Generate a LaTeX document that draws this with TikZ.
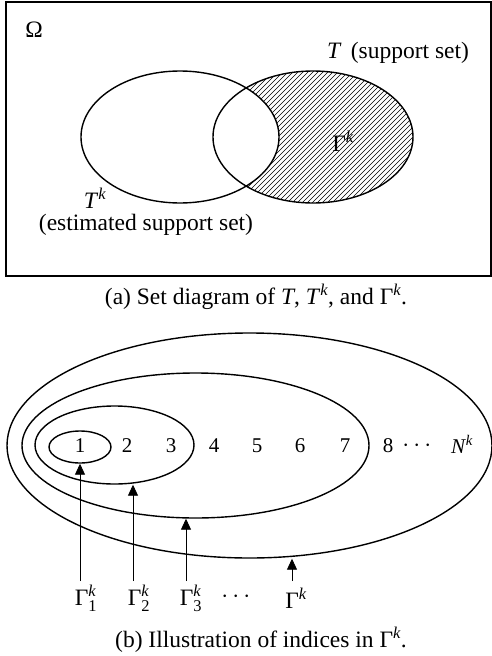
\documentclass[tikz,border=0pt]{standalone}
\usepackage{fontspec}
\usepackage{amsmath}
\setmainfont{Liberation Serif}
\usetikzlibrary{shapes.geometric,arrows.meta}
\begin{document}
\begin{tikzpicture}[x=1pt,y=-1pt,
  setell/.style={ellipse, draw, line width=1.4pt, inner sep=0pt},
  lab/.style={font=\fontsize{23.5}{28}\selectfont, inner sep=0pt},
  num/.style={font=\fontsize{21}{25}\selectfont, inner sep=0pt},
  captext/.style={font=\fontsize{23.5}{28}\selectfont, inner sep=0pt},
  arr/.style={line width=0.9pt, -{Triangle[length=11pt,width=10pt]}},
  hatch/.style={line width=0.6pt}]
\useasboundingbox (0,0) rectangle (492,656);

% ---------- panel (a)
\node[draw, line width=1.8pt, minimum width=485pt, minimum height=274pt, inner sep=0pt] (omega) at (248.5,139) {};
\node[lab] (om) at (34,30) {Ω};
\begin{scope}
  \clip (313,137) ellipse [x radius=100pt, y radius=66pt];
  \foreach \c in {280,285,...,620}
    \draw[hatch] (\c-50,50) -- (\c-225,225);
\end{scope}
\node[setell, fill=white, minimum width=198pt, minimum height=132pt] (Tk) at (180,137) {};
\node[setell, minimum width=200pt, minimum height=132pt] (T) at (313,137) {};
\node[lab] (Tlab) at (398,53) {\textit{T}\hspace{0.4em}(support set)};
\node[lab] (Glab) at (343,141) {$\text{Γ}^{\textit{k}}$};
\node[lab] (Tklab) at (95,198) {$\text{\textit{T}}^{\textit{k}}$};
\node[lab] (est) at (146,225) {(estimated support set)};
\node[captext] (capa) at (256,297) {(a) Set diagram of \textit{T}, $\text{\textit{T}}^{\textit{k}}$, and $\text{Γ}^{\textit{k}}$.};

% ---------- panel (b)
\node[setell, minimum width=485pt, minimum height=225pt] (e4) at (249.5,445.5) {};
\node[setell, minimum width=347pt, minimum height=145pt] (e2) at (195.5,445.5) {};
\node[setell, minimum width=159pt, minimum height=78pt] (e3) at (114.5,445) {};
\node[setell, minimum width=62pt, minimum height=32pt] (e1) at (80,447) {};

\node[num] (n1) at (80,446) {1};
\node[num] (n2) at (127,446) {2};
\node[num] (n3) at (171,446) {3};
\node[num] (n4) at (214,446) {4};
\node[num] (n5) at (257,446) {5};
\node[num] (n6) at (300,446) {6};
\node[num] (n7) at (345,446) {7};
\node[num] (n8) at (388,446) {8};
\node[num] (ndots) at (419,446) {\fontsize{25}{28}\selectfont$\cdots$};
\node[num] (nN) at (462,444) {$\text{\textit{N}}^{\textit{k}}$};

\coordinate (a1) at (80,581);
\coordinate (a2) at (133,581);
\coordinate (a3) at (186,581);
\coordinate (a4) at (292,581);
\draw[arr] (a1) -- (a1 |- e1.south);
\draw[arr] (a2) -- (a2 |- e3.south);
\draw[arr] (a3) -- (a3 |- e2.south);
\draw[arr] (a4) -- (a4 |- e4.south);

\node[lab] (g1) at (86,598) {$\text{Γ}^{\textit{k}}_{\text{1}}$};
\node[lab] (g2) at (139,598) {$\text{Γ}^{\textit{k}}_{\text{2}}$};
\node[lab] (g3) at (191,598) {$\text{Γ}^{\textit{k}}_{\text{3}}$};
\node[lab] (gdots) at (238,597) {\fontsize{27}{30}\selectfont$\cdots$};
\node[lab] (gk) at (296,598) {$\text{Γ}^{\textit{k}}$};

\node[captext] (capb) at (261,640) {(b) Illustration of indices in $\text{Γ}^{\textit{k}}$.};
\end{tikzpicture}
\end{document}
